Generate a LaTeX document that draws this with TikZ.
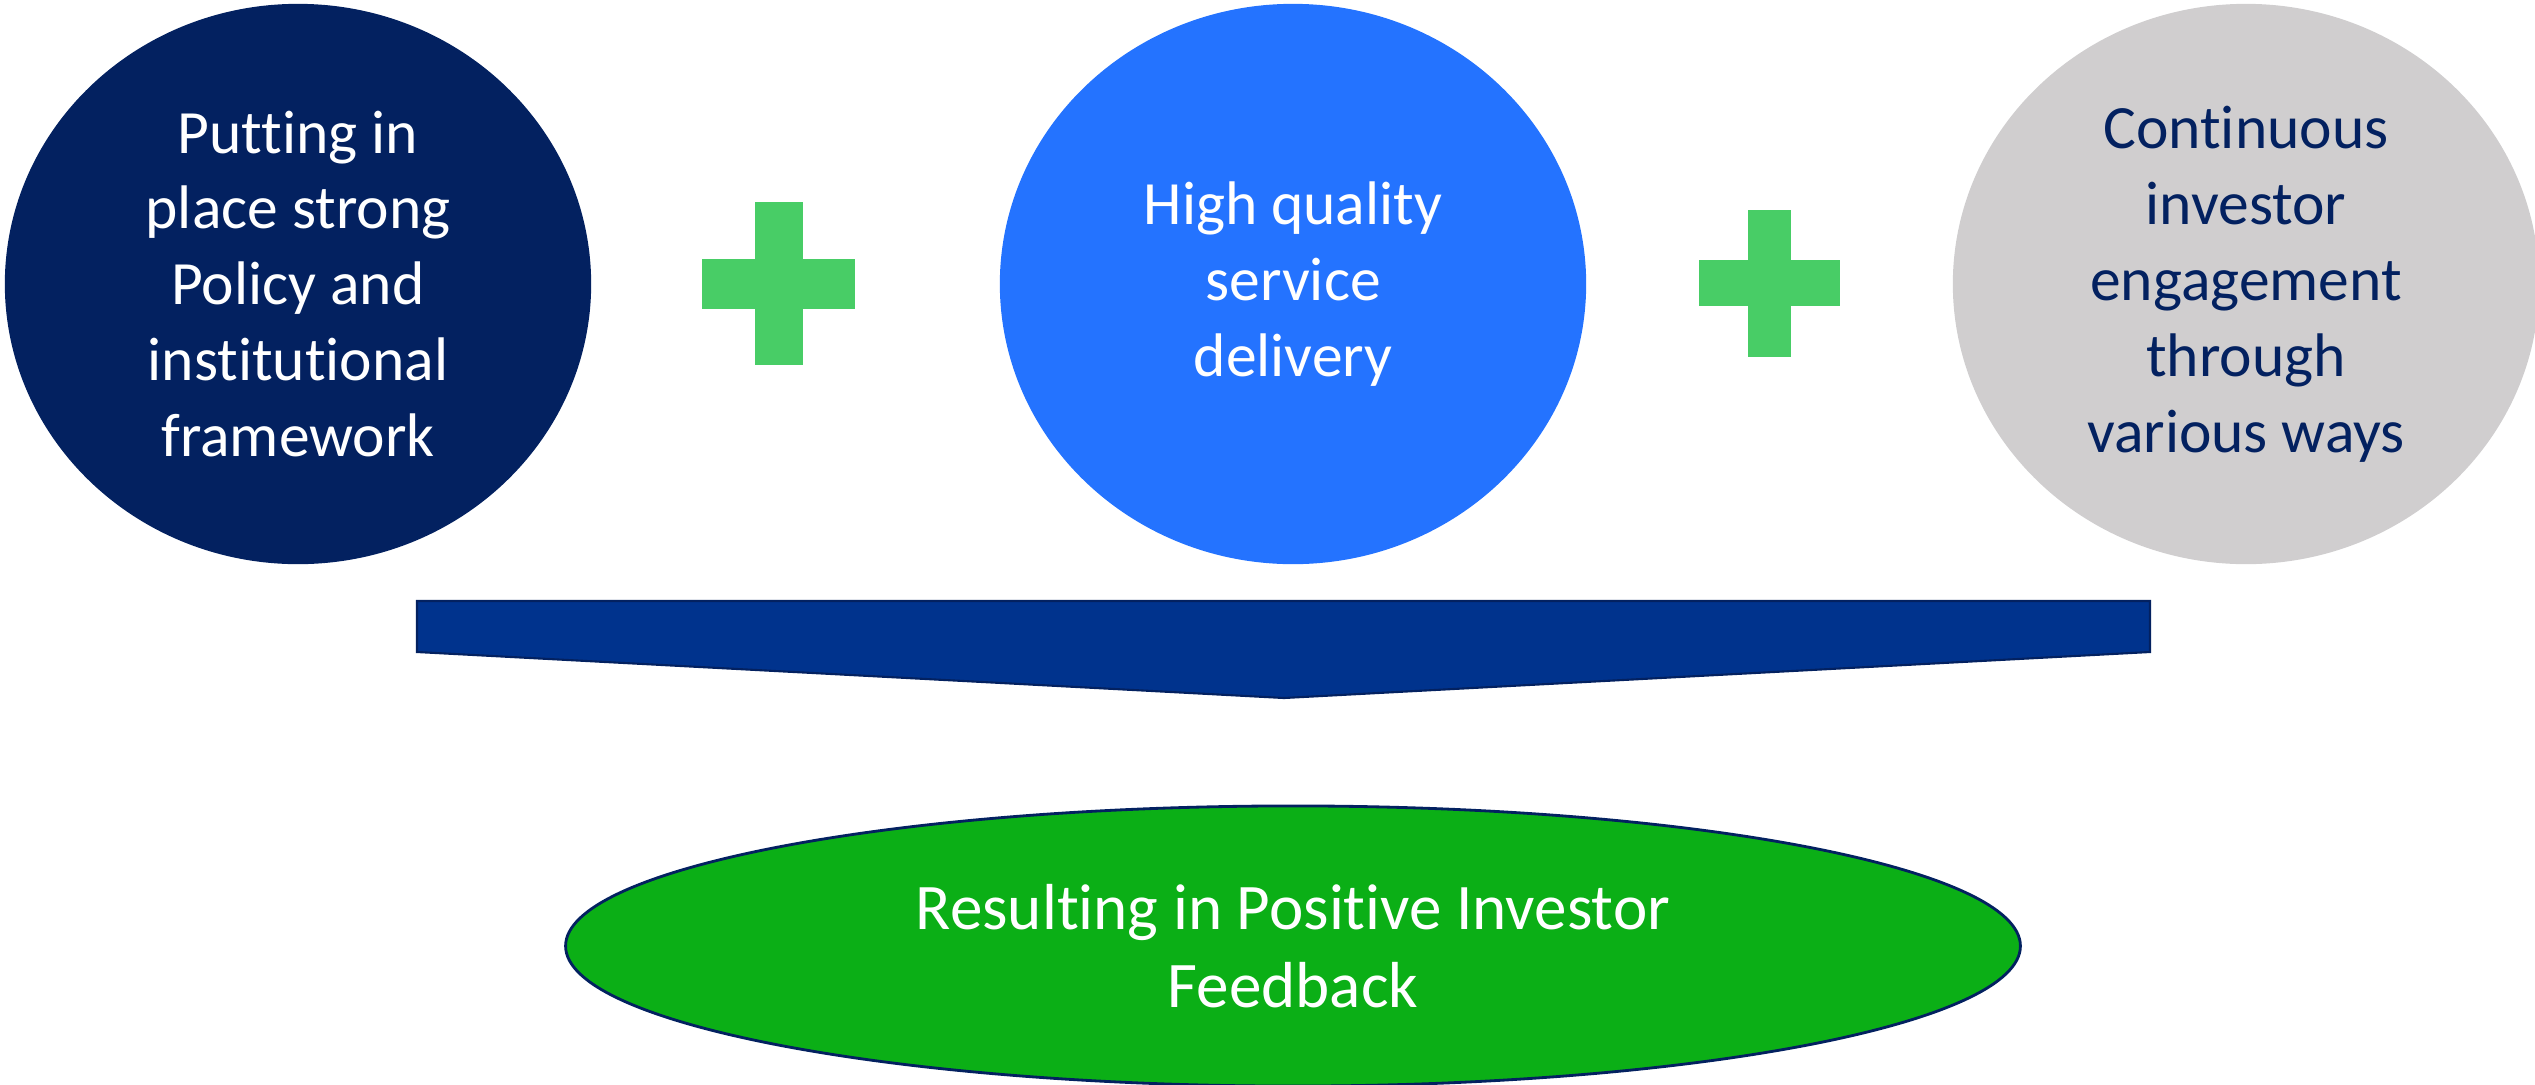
\documentclass[tikz,border=0pt]{standalone}
\usepackage{fontspec}
\setmainfont{Carlito}[Ligatures=NoCommon]
\usetikzlibrary{shapes.geometric}
\definecolor{navy}{RGB}{3,33,96}
\definecolor{midblue}{RGB}{36,115,255}
\definecolor{lgrey}{RGB}{208,206,207}
\definecolor{plusgreen}{RGB}{72,205,102}
\definecolor{bannerblue}{RGB}{0,51,141}
\definecolor{resgreen}{RGB}{11,175,22}
\tikzset{
  bigcirc/.style={ellipse, inner sep=0pt, minimum width=5.86cm, minimum height=5.6cm, align=center,
    font=\fontsize{17.5}{21.6}\selectfont},
  plussign/.style={fill=plusgreen, draw=none},
  banner/.style={fill=bannerblue, draw=navy, line width=0.6pt},
  result/.style={ellipse, inner sep=0pt, minimum width=14.54cm, minimum height=2.8cm, align=center,
    fill=resgreen, draw=navy, line width=0.8pt, text=white, font=\fontsize{18.5}{22.2}\selectfont}
}
\begin{document}
\begin{tikzpicture}[x=0.01cm,y=-0.01cm]
\useasboundingbox (0,0) rectangle (2535,1084);
% circles
\node[bigcirc, fill=navy, text=white] (policy) at (298,284)
  {Putting in\\place strong\\Policy and\\institutional\\framework};
\node[bigcirc, fill=midblue, text=white] (service) at (1293,284)
  {High quality\\service\\delivery};
\node[bigcirc, fill=lgrey, text=navy] (engage) at (2246,284)
  {Continuous\\investor\\engagement\\through\\various ways};
% plus signs
\fill[plussign] (755,202) rectangle (803,365);
\fill[plussign] (702,259) rectangle (855,309);
\fill[plussign] (1748,210) rectangle (1791,357);
\fill[plussign] (1699,260) rectangle (1840,306);
% banner chevron
\coordinate (bl) at (417,601);
\coordinate (br) at (2150,601);
\coordinate (brb) at (2150,652);
\coordinate (tip) at (1284,698);
\coordinate (blb) at (417,652);
\draw[banner] (bl) -- (br) -- (brb) -- (tip) -- (blb) -- cycle;
% result
\node[result] (res) at (1293,946) {Resulting in Positive Investor\\Feedback};
\end{tikzpicture}
\end{document}
